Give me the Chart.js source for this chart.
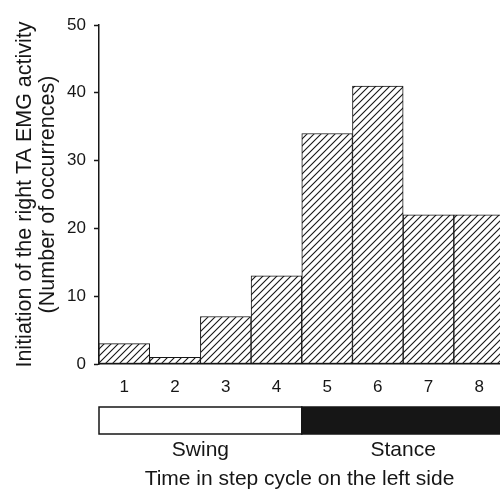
<!DOCTYPE html>
<html>
<head>
<meta charset="utf-8">
<script src="https://cdn.jsdelivr.net/npm/chart.js@4/dist/chart.umd.min.js"></script>
<style>
  html, body { margin: 0; padding: 0; background: #fff; overflow: hidden; }
  canvas { display: block; }
</style>
</head>
<body>
<canvas id="emgChart" width="500" height="491"></canvas>
<script>
// Histogram: onset of right TA EMG activity across the left step cycle

const bins = [1, 2, 3, 4, 5, 6, 7, 8];
const occurrences = [3, 1, 7, 13, 34, 41, 22, 22];
const yTicks = [0, 10, 20, 30, 40, 50];

// step cycle phases, in bin units
const phaseLabels = ['Swing', 'Stance'];
const phaseFrom = [0.5, 4.5];
const phaseTo = [4.5, 8.5];

const INK = '#161616';
const FONT = '"Liberation Sans", Arial, Helvetica, sans-serif';

// diagonal hatch fill
function makeHatch() {
  const s = 7;
  const c = document.createElement('canvas');
  c.width = s; c.height = s;
  const g = c.getContext('2d');
  g.fillStyle = '#fff';
  g.fillRect(0, 0, s, s);
  g.strokeStyle = INK;
  g.lineWidth = 1.1;
  g.beginPath();
  g.moveTo(0, s); g.lineTo(s, 0);
  g.moveTo(-1, 1); g.lineTo(1, -1);
  g.moveTo(s - 1, s + 1); g.lineTo(s + 1, s - 1);
  g.stroke();
  return g.createPattern(c, 'repeat');
}

// white / black bar under the axis showing swing and stance
const phaseBand = {
  id: 'phaseBand',
  afterDraw(chart) {
    const ctx = chart.ctx;
    const xs = chart.scales.x;
    const top = chart.chartArea.bottom + 43;
    const h = 27;
    ctx.save();
    phaseLabels.forEach((label, i) => {
      const x0 = xs.getPixelForValue(phaseFrom[i]);
      const x1 = xs.getPixelForValue(phaseTo[i]);
      ctx.fillStyle = i === 0 ? '#fff' : INK;
      ctx.fillRect(x0, top, x1 - x0, h);
      ctx.strokeStyle = INK;
      ctx.lineWidth = 1.5;
      ctx.strokeRect(x0, top, x1 - x0, h);

      ctx.fillStyle = INK;
      ctx.font = '21px ' + FONT;
      ctx.textAlign = 'center';
      ctx.textBaseline = 'middle';
      ctx.fillText(label, (x0 + Math.min(x1, chart.width + 10)) / 2, top + h + 16);
    });
    ctx.restore();
  }
};

new Chart(document.getElementById('emgChart'), {
  type: 'bar',
  data: {
    datasets: [{
      data: bins.map((b, i) => ({ x: b, y: occurrences[i] })),
      backgroundColor: makeHatch(),
      borderColor: INK,
      borderWidth: 1,
      borderSkipped: false,
      barPercentage: 1,
      categoryPercentage: 1
    }]
  },
  options: {
    responsive: false,
    animation: false,
    events: [],
    layout: { padding: { top: 25, right: 0, bottom: 0, left: 0 } },
    plugins: {
      legend: { display: false },
      tooltip: { enabled: false }
    },
    scales: {
      x: {
        type: 'linear',
        min: 0.5,
        max: 8.41,
        offset: false,
        afterBuildTicks: s => { s.ticks = bins.map(v => ({ value: v })); },
        afterFit: s => { s.height = 127; },
        grid: { display: false, offset: false },
        border: { display: true, color: INK, width: 1.5 },
        ticks: {
          padding: 5,
          color: INK,
          font: { family: FONT, size: 17 }
        },
        title: {
          display: true,
          text: 'Time in step cycle on the left side',
          color: INK,
          font: { family: FONT, size: 21, lineHeight: 1.1 },
          padding: { top: 0, bottom: 0 }
        }
      },
      y: {
        min: 0,
        max: 50,
        afterBuildTicks: s => { s.ticks = yTicks.map(v => ({ value: v })); },
        afterFit: s => { s.width = 99; },
        grid: {
          drawOnChartArea: false,
          tickLength: 5,
          tickColor: INK,
          tickWidth: 1.5
        },
        border: { display: true, color: INK, width: 1.5 },
        ticks: {
          padding: 8,
          color: INK,
          font: { family: FONT, size: 17 }
        },
        title: {
          display: true,
          text: ['Initiation of the right TA EMG activity', '(Number of occurrences)'],
          color: INK,
          font: { family: FONT, size: 21.5, lineHeight: 1.08 },
          padding: { top: 13, bottom: 0 }
        }
      }
    }
  },
  plugins: [phaseBand]
});
</script>
</body>
</html>
